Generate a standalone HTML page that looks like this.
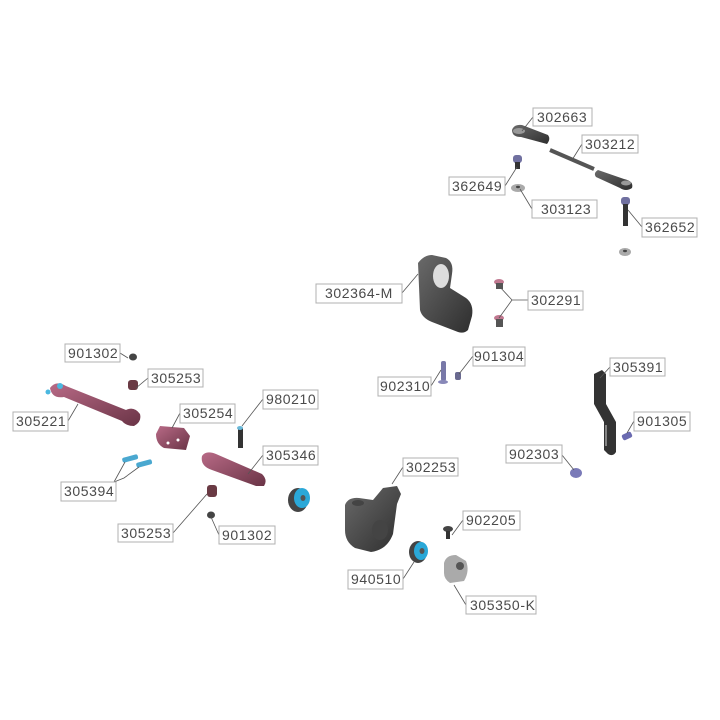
<!DOCTYPE html>
<html><head><meta charset="utf-8"><style>
html,body{margin:0;padding:0;background:#fff}
svg{display:block}
.l{font-family:"Liberation Sans",sans-serif;font-size:14px;fill:#4a4a4a;letter-spacing:0.6px}
.b{fill:#fff;stroke:#b0b0b0;stroke-width:1}
.c{stroke:#555;stroke-width:0.8;fill:none}
</style></head><body>
<svg width="720" height="720" viewBox="0 0 720 720" xmlns="http://www.w3.org/2000/svg">
<rect width="720" height="720" fill="#fff"/>
<defs>
<linearGradient id="g" x1="0" y1="0" x2="1" y2="1"><stop offset="0" stop-color="#6a6a6a"/><stop offset="1" stop-color="#2e2e2e"/></linearGradient>
<linearGradient id="p" x1="0" y1="0" x2="1" y2="1"><stop offset="0" stop-color="#b86a86"/><stop offset="1" stop-color="#6a3446"/></linearGradient>
</defs>

<!-- top linkage -->
<g>
<path d="M512,130 q2,-6 10,-5 l26,10 q3,4 -1,9 l-26,-7 q-9,0 -9,-7z" fill="url(#g)"/>
<ellipse cx="519" cy="131" rx="6" ry="3" fill="#999"/>
<line x1="550" y1="150" x2="594" y2="169" stroke="#555" stroke-width="4"/>
<path d="M598,170 l26,9 q10,2 8,9 q-6,4 -12,0 l-24,-11 q-3,-4 2,-7z" fill="url(#g)"/>
<ellipse cx="626" cy="183" rx="5" ry="2.5" fill="#999"/>
<rect x="513" y="155" width="9" height="8" rx="3" fill="#7070a0"/>
<rect x="515" y="162" width="5" height="7" fill="#333"/>
<ellipse cx="518" cy="188" rx="7" ry="4" fill="#aaa"/><ellipse cx="518" cy="187" rx="2" ry="1.2" fill="#444"/>
<rect x="621" y="197" width="9" height="8" rx="3" fill="#7070a0"/>
<rect x="623" y="204" width="5" height="22" fill="#333"/>
<ellipse cx="625" cy="252" rx="6" ry="4" fill="#aaa"/><ellipse cx="625" cy="251" rx="2" ry="1.2" fill="#444"/>
</g>

<!-- 302364-M -->
<path d="M418,263 q6,-8 14,-8 l14,3 q8,4 6,16 l-2,14 l16,10 q8,6 6,18 l-4,14 q-4,4 -10,2 l-26,-10 q-10,-4 -12,-12 z" fill="url(#g)"/>
<ellipse cx="441" cy="276" rx="8" ry="12" fill="#ddd"/>
<!-- 302291 -->
<ellipse cx="499" cy="282" rx="5" ry="3" fill="#c07890"/><rect x="496" y="283" width="7" height="6" fill="#555"/>
<ellipse cx="499" cy="318" rx="5" ry="3" fill="#c07890"/><rect x="496" y="319" width="7" height="8" fill="#555"/>
<!-- 902310 901304 -->
<rect x="441" y="361" width="5" height="20" rx="2" fill="#7878a8"/><ellipse cx="443" cy="382" rx="5" ry="2" fill="#8888b8"/>
<rect x="455" y="372" width="6" height="8" rx="2" fill="#6a6a90"/>

<!-- 305391 plate -->
<path d="M594,374 l8,-4 l4,4 l0,30 l10,18 l0,30 q-3,5 -8,2 l-4,-4 l0,-28 l-10,-18z" fill="#333"/>
<line x1="606" y1="425" x2="606" y2="446" stroke="#bbb" stroke-width="1.2"/>
<rect x="622" y="433" width="10" height="6" rx="2" fill="#6a6ab0" transform="rotate(-25 627 436)"/>
<ellipse cx="576" cy="473" rx="6" ry="5" fill="#7a7ab8"/>

<!-- 302253 -->
<path d="M345,505 q3,-8 14,-7 l14,2 l10,-12 l14,-2 l4,8 l-4,10 l-4,30 q-6,16 -22,18 l-16,-4 q-10,-6 -10,-18z" fill="url(#g)"/>
<ellipse cx="358" cy="503" rx="6" ry="3" fill="#444"/>
<ellipse cx="380" cy="530" rx="8" ry="10" fill="#444"/>
<!-- 940510 -->
<ellipse cx="418" cy="552" rx="9" ry="11" fill="#444"/><ellipse cx="421" cy="551" rx="7" ry="9" fill="#2aa8d8"/><ellipse cx="422" cy="551" rx="2.5" ry="3" fill="#555"/>
<!-- 902205 -->
<ellipse cx="448" cy="529" rx="5" ry="3" fill="#444"/><rect x="446" y="531" width="4" height="8" fill="#333"/>
<!-- 305350-K -->
<path d="M444,563 q2,-8 12,-8 l10,6 q4,10 -2,20 l-14,2 q-6,-4 -6,-10z" fill="#aaa"/>
<ellipse cx="460" cy="566" rx="4" ry="4" fill="#555"/>

<!-- left driveshaft -->
<path d="M50,388 q6,-8 16,-2 l60,24 q8,-4 14,4 q2,8 -6,12 q-8,0 -12,-5 l-58,-24 q-12,2 -14,-9z" fill="url(#p)"/>
<circle cx="60" cy="386" r="3" fill="#4ab8e0"/><circle cx="48" cy="392" r="2.5" fill="#4ab8e0"/>
<ellipse cx="133" cy="357" rx="4" ry="3.5" fill="#444"/>
<rect x="128" y="380" width="10" height="10" rx="3" fill="#6a3a44"/>
<!-- 305254 -->
<path d="M156,434 l4,-8 l24,2 l6,8 l-4,14 l-22,-2 q-8,-4 -8,-14z" fill="url(#p)"/>
<circle cx="168" cy="443" r="1.5" fill="#fff"/><circle cx="178" cy="440" r="1.5" fill="#fff"/>
<!-- 305394 pins -->
<rect x="122" y="456" width="16" height="5" rx="2" fill="#4aa8d0" transform="rotate(-15 130 458)"/>
<rect x="136" y="461" width="16" height="5" rx="2" fill="#4aa8d0" transform="rotate(-15 144 463)"/>
<!-- 980210 -->
<rect x="238" y="428" width="5" height="20" fill="#333"/><ellipse cx="240" cy="428" rx="3" ry="2" fill="#6ab8d8"/>
<!-- 305346 -->
<path d="M202,456 q4,-6 14,-2 l46,20 q6,6 2,12 l-8,0 l-44,-16 q-12,-4 -10,-14z" fill="url(#p)"/>
<!-- bearing -->
<ellipse cx="298" cy="500" rx="10" ry="12" fill="#444"/><ellipse cx="302" cy="498" rx="8" ry="10" fill="#2aa8d8"/><ellipse cx="303" cy="498" rx="2.5" ry="3" fill="#555"/>
<rect x="207" y="485" width="10" height="12" rx="3" fill="#6a3a44"/>
<ellipse cx="211" cy="515" rx="4" ry="3.5" fill="#444"/>

<!-- connectors -->
<g class="c">
<line x1="533" y1="117" x2="522" y2="131"/>
<line x1="582" y1="144" x2="572" y2="160"/>
<line x1="505" y1="186" x2="517" y2="167"/>
<line x1="532" y1="209" x2="520" y2="189"/>
<line x1="642" y1="227" x2="628" y2="210"/>
<line x1="402" y1="293" x2="418" y2="274"/>
<polyline points="499,286 512,300 528,300"/><line x1="512" y1="300" x2="499" y2="318"/>
<line x1="431" y1="386" x2="441" y2="370"/>
<line x1="473" y1="356" x2="459" y2="374"/>
<line x1="610" y1="367" x2="600" y2="378"/>
<line x1="634" y1="421" x2="627" y2="433"/>
<line x1="562" y1="455" x2="574" y2="470"/>
<line x1="403" y1="467" x2="392" y2="484"/>
<line x1="463" y1="520" x2="452" y2="535"/>
<line x1="403" y1="579" x2="414" y2="562"/>
<line x1="466" y1="605" x2="454" y2="585"/>
<line x1="120" y1="353" x2="128" y2="358"/>
<line x1="148" y1="378" x2="136" y2="388"/>
<line x1="68" y1="421" x2="78" y2="404"/>
<line x1="180" y1="413" x2="172" y2="428"/>
<line x1="263" y1="399" x2="242" y2="426"/>
<line x1="263" y1="455" x2="248" y2="474"/>
<polyline points="125,462 114,482"/><polyline points="139,467 124,478 114,482"/>
<line x1="173" y1="533" x2="207" y2="494"/>
<line x1="219" y1="535" x2="211" y2="517"/>
</g>

<!-- labels -->
<g>
<rect class="b" x="533" y="108" width="59" height="18"/><text class="l" x="537" y="122">302663</text>
<rect class="b" x="582" y="135" width="56" height="18"/><text class="l" x="585" y="149">303212</text>
<rect class="b" x="449" y="177" width="56" height="18"/><text class="l" x="452" y="191">362649</text>
<rect class="b" x="532" y="200" width="65" height="18"/><text class="l" x="541" y="214">303123</text>
<rect class="b" x="642" y="218" width="55" height="19"/><text class="l" x="645" y="232">362652</text>
<rect class="b" x="316" y="284" width="86" height="19"/><text class="l" x="325" y="298">302364-M</text>
<rect class="b" x="528" y="291" width="55" height="19"/><text class="l" x="531" y="305">302291</text>
<rect class="b" x="378" y="377" width="53" height="19"/><text class="l" x="380" y="391">902310</text>
<rect class="b" x="473" y="347" width="52" height="19"/><text class="l" x="474" y="361">901304</text>
<rect class="b" x="610" y="358" width="55" height="18"/><text class="l" x="613" y="372">305391</text>
<rect class="b" x="634" y="412" width="56" height="19"/><text class="l" x="637" y="426">901305</text>
<rect class="b" x="506" y="445" width="56" height="18"/><text class="l" x="509" y="459">902303</text>
<rect class="b" x="403" y="458" width="55" height="18"/><text class="l" x="406" y="472">302253</text>
<rect class="b" x="463" y="511" width="57" height="19"/><text class="l" x="466" y="525">902205</text>
<rect class="b" x="348" y="570" width="55" height="19"/><text class="l" x="351" y="584">940510</text>
<rect class="b" x="466" y="596" width="70" height="18"/><text class="l" x="470" y="610">305350-K</text>
<rect class="b" x="65" y="344" width="55" height="18"/><text class="l" x="68" y="358">901302</text>
<rect class="b" x="148" y="369" width="55" height="18"/><text class="l" x="151" y="383">305253</text>
<rect class="b" x="13" y="412" width="55" height="19"/><text class="l" x="16" y="426">305221</text>
<rect class="b" x="180" y="404" width="55" height="19"/><text class="l" x="183" y="418">305254</text>
<rect class="b" x="263" y="390" width="55" height="19"/><text class="l" x="266" y="404">980210</text>
<rect class="b" x="263" y="446" width="55" height="19"/><text class="l" x="266" y="460">305346</text>
<rect class="b" x="61" y="482" width="55" height="19"/><text class="l" x="64" y="496">305394</text>
<rect class="b" x="118" y="524" width="55" height="18"/><text class="l" x="121" y="538">305253</text>
<rect class="b" x="219" y="526" width="56" height="18"/><text class="l" x="222" y="540">901302</text>
</g>
</svg>
</body></html>
